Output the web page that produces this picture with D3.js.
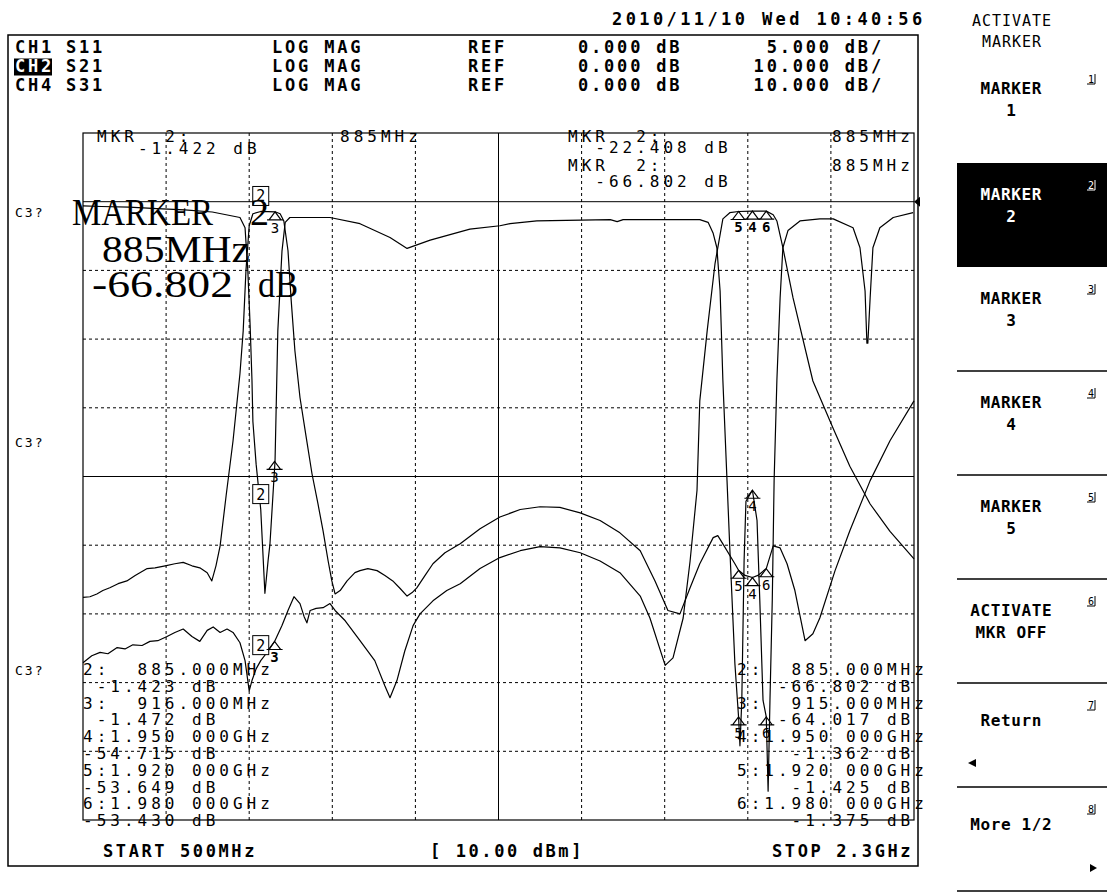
<!DOCTYPE html>
<html><head><meta charset="utf-8">
<script src="https://cdn.jsdelivr.net/npm/d3@7"></script>
<style>body{margin:0;background:#fff}</style>
</head><body><svg id="c" width="1107" height="895"></svg>
<script>
// ---------------- data ----------------
const freqStart = 500, freqStop = 2300;           // MHz
const channelNames = ["CH1", "CH2", "CH4"];
const channelParams = ["S11", "S21", "S31"];
const channelFormats = ["LOG MAG", "LOG MAG", "LOG MAG"];
const channelRefs = ["0.000 dB", "0.000 dB", "0.000 dB"];
const channelScales = ["5.000 dB/", "10.000 dB/", "10.000 dB/"];
const dateText = "2010/11/10 Wed 10:40:56";
const softkeyTitle = ["ACTIVATE", "MARKER"];
const softkeyLabels = [["MARKER","1"],["MARKER","2"],["MARKER","3"],["MARKER","4"],["MARKER","5"],["ACTIVATE","MKR OFF"],["Return"],["More 1/2"]];
const bottomLabels = ["START 500MHz", "[ 10.00 dBm]", "STOP 2.3GHz"];

// CH1 S11 (5 dB/div)
const s11Freq = [500,540,600,660,720,780,840,851,857,862,866,868,875,885,894,901,905,916,922,931,938,948,970,1035,1100,1165,1202,1252,1338,1403,1425,1483,1642,1657,1670,1836,1854,1865,1873,1880,1886,1895,1901,1912,1920,1923,1927,1932,1936,1950,1960,1966,1973,1980,1984,1988,1993,1997,2003,2010,2016,2027,2053,2096,2125,2168,2183,2194,2198,2200,2205,2211,2226,2255,2298];
const s11dB   = [-0.3,-0.35,-0.4,-0.5,-0.6,-0.75,-1.15,-1.9,-5.0,-9.0,-13.0,-16.0,-19.1,-22.4,-28.5,-26.1,-24.9,-18.85,-9.4,-3.6,-1.5,-1.15,-1.15,-1.15,-1.6,-2.6,-3.4,-2.8,-2.0,-1.75,-1.6,-1.4,-1.3,-1.45,-1.3,-1.3,-1.5,-2.3,-3.35,-6.5,-13.0,-20.3,-25.2,-33.6,-37.5,-39.6,-36.3,-26.1,-21.8,-21.0,-23.2,-29.0,-36.3,-37.5,-42.9,-36.3,-29.0,-20.3,-13.0,-7.0,-3.35,-2.1,-1.4,-1.25,-1.25,-1.9,-3.35,-6.5,-10.3,-10.3,-7.0,-3.35,-1.9,-1.15,-0.8];

// CH2 S21 (10 dB/div)
const s21Freq = [500,515,530,543,558,576,595,613,626,639,656,678,699,717,736,753,769,779,788,797,810,825,840,847,853,860,868,885,901,916,927,935,944,951,959,970,983,996,1009,1020,1031,1039,1046,1057,1072,1089,1100,1117,1137,1154,1171,1187,1202,1213,1223,1241,1258,1284,1317,1360,1403,1447,1490,1533,1577,1620,1663,1707,1739,1767,1793,1815,1836,1865,1875,1886,1912,1920,1934,1950,1962,1980,1995,2010,2025,2042,2064,2081,2096,2129,2161,2205,2248,2300];
const s21dB   = [-57.6,-57.5,-57.1,-56.6,-56.2,-55.6,-55.2,-54.4,-53.9,-53.4,-53.3,-53.0,-52.7,-52.5,-53.0,-53.3,-54.0,-55.2,-53.0,-50.1,-42.8,-34.8,-25.0,-18.8,-10.0,-3.5,-1.75,-1.42,-1.45,-1.47,-1.75,-2.8,-7.1,-14.4,-21.7,-28.5,-34.1,-39.6,-44.0,-47.9,-52.3,-55.2,-57.1,-56.6,-55.2,-54.0,-53.7,-53.4,-53.7,-54.4,-55.2,-56.3,-57.4,-56.9,-56.2,-54.4,-52.7,-51.1,-49.8,-47.6,-45.9,-44.8,-44.4,-44.5,-45.3,-46.4,-48.2,-50.8,-55.2,-59.5,-60.0,-56.2,-52.7,-48.9,-48.6,-49.8,-52.7,-53.65,-54.4,-54.7,-54.4,-53.4,-50.1,-50.4,-52.7,-56.6,-63.9,-62.9,-60.6,-53.7,-47.9,-40.6,-34.8,-29.0];

// CH4 S31 (10 dB/div)
const s31Freq = [500,519,537,554,574,591,608,628,645,662,682,699,717,736,753,769,782,797,812,825,840,851,860,866,875,885,901,915,931,944,957,970,979,985,992,1005,1020,1035,1046,1068,1100,1132,1154,1165,1180,1197,1215,1230,1258,1288,1317,1360,1403,1447,1490,1533,1577,1620,1663,1707,1728,1761,1778,1800,1815,1830,1836,1852,1869,1886,1901,1920,1950,1980,1995,2003,2016,2038,2081,2125,2161,2205,2248,2300];
const s31dB   = [-67.1,-66.1,-65.6,-65.8,-64.9,-65.1,-64.5,-64.6,-64.0,-63.9,-63.3,-62.7,-62.2,-63.3,-64.0,-62.4,-61.9,-62.7,-62.2,-62.7,-64.2,-66.8,-71.2,-69.7,-68.0,-66.8,-65.4,-64.0,-61.7,-59.5,-57.5,-58.5,-60.4,-61.3,-59.5,-59.2,-59.1,-58.5,-59.5,-61.0,-63.9,-66.8,-70.5,-72.2,-69.7,-65.4,-61.7,-60.0,-58.1,-56.6,-55.6,-53.4,-51.8,-50.8,-50.2,-50.4,-51.1,-52.3,-54.0,-57.4,-60.6,-67.5,-66.4,-60.6,-52.3,-42.0,-29.0,-18.8,-9.0,-2.5,-1.6,-1.425,-1.362,-1.375,-1.9,-2.8,-6.7,-14.0,-26.1,-33.0,-38.5,-44.0,-48.0,-52.0];

// marker lists: [number, MHz, dB]
const s11Markers = [[2,885,-22.408],[3,915,-18.9],[4,1950,-21.0],[5,1920,-37.5],[6,1980,-37.5]];
const s21Markers = [[2,885,-1.423],[3,916,-1.472],[4,1950,-54.715],[5,1920,-53.649],[6,1980,-53.430]];
const s31Markers = [[2,885,-66.802],[3,915,-64.017],[4,1950,-1.362],[5,1920,-1.425],[6,1980,-1.375]];

const leftTable = ["2:  885.000MHz"," -1.423 dB","3:  916.000MHz"," -1.472 dB","4:1.950 000GHz","-54.715 dB","5:1.920 000GHz","-53.649 dB","6:1.980 000GHz","-53.430 dB"];
const rightTable = ["2:  885.000MHz","   -66.802 dB","3:  915.000MHz","   -64.017 dB","4:1.950 000GHz","    -1.362 dB","5:1.920 000GHz","    -1.425 dB","6:1.980 000GHz","    -1.375 dB"];
const refLabels = ["C3?", "C3?", "C3?"];

// ---------------- drawing ----------------
const MONO = "'DejaVu Sans Mono', 'Liberation Mono', monospace";
const svg = d3.select('#c');
svg.append('rect').attr('width',1107).attr('height',895).attr('fill','#fff');

function T(x, y, s, o = {}) {
  return svg.append('text').attr('x', x).attr('y', y).text(s)
    .attr('font-family', o.family || MONO).attr('font-size', o.size || 16)
    .attr('font-weight', o.weight || 'normal')
    .attr('letter-spacing', o.ls == null ? 4 : o.ls)
    .attr('text-anchor', o.anchor || 'start').attr('fill', o.fill || '#000')
    .style('white-space', 'pre');
}

const L = 83, R = 914, TOP = 133, BOT = 820;
const x = d3.scaleLinear([freqStart, freqStop], [L, R]);
const y10 = d3.scaleLinear([10, -90], [TOP, BOT]);
const y5 = d3.scaleLinear([5, -45], [TOP, BOT]);

// date + header
T(612, 25, dateText, {weight:'bold', size:17, ls:3.4});
const hdrY = [53, 72, 91];
svg.append('rect').attr('x', 14).attr('y', 58.5).attr('width', 38).attr('height', 17).attr('fill', '#000');
channelNames.forEach((c, i) => {
  const o = {weight:'bold', size:17, ls:2.8};
  T(15, hdrY[i], c, Object.assign({}, o, {fill: i === 1 ? '#fff' : '#000'}));
  T(66, hdrY[i], channelParams[i], o);
  T(272, hdrY[i], channelFormats[i], o);
  T(468, hdrY[i], "REF", o);
  T(578, hdrY[i], channelRefs[i], o);
  T(884 - channelScales[i].length * 13.04, hdrY[i], channelScales[i], o);
});

// outer frame
svg.append('rect').attr('x', 8).attr('y', 35).attr('width', 910).attr('height', 831)
  .attr('fill', 'none').attr('stroke', '#000').attr('stroke-width', 1.5);

// grid
const xTicks = d3.range(freqStart, freqStop + 1, 180);
const yTicks = d3.range(10, -91, -10);
const grid = svg.append('g').attr('stroke', '#000').attr('stroke-width', 1);
xTicks.forEach((f, i) => {
  if (i === 0 || i === xTicks.length - 1) return;
  grid.append('line').attr('x1', x(f)).attr('x2', x(f)).attr('y1', TOP).attr('y2', BOT)
    .attr('stroke-dasharray', i === 5 ? null : '3,3');
});
yTicks.forEach((d, i) => {
  if (i === 0 || i === yTicks.length - 1) return;
  const solid = (d === 0 || d === -40);
  grid.append('line').attr('x1', L).attr('x2', R).attr('y1', y10(d)).attr('y2', y10(d))
    .attr('stroke-dasharray', solid ? null : '3,3');
});
svg.append('rect').attr('x', L).attr('y', TOP).attr('width', R - L).attr('height', BOT - TOP)
  .attr('fill', 'none').attr('stroke', '#000').attr('stroke-width', 1.2);
// reference arrow on right edge
svg.append('path').attr('d', `M${R},${y10(0)} L${R+6},${y10(0)-5} L${R+6},${y10(0)+5} Z`).attr('fill', '#000');

// ref labels
[212, 442, 670].forEach((yy, i) => T(15, yy + 5, refLabels[i], {size:13, ls:2}));

// traces
function trace(fr, db, ys) {
  const pts = fr.map((f, i) => [f, db[i]]);
  svg.append('path').datum(pts)
    .attr('d', d3.line().x(d => x(d[0])).y(d => ys(d[1])))
    .attr('fill', 'none').attr('stroke', '#000').attr('stroke-width', 1.2)
    .attr('stroke-linejoin', 'round');
}
trace(s11Freq, s11dB, y5);
trace(s21Freq, s21dB, y10);
trace(s31Freq, s31dB, y10);

// markers
function markers(list, ys, boldLbl) {
  list.forEach(([n, f, db]) => {
    const px = x(f), py = ys(db);
    if (n === 2) {
      svg.append('rect').attr('x', px - 8).attr('y', py - 25).attr('width', 16).attr('height', 19)
        .attr('fill', '#fff').attr('stroke', '#000').attr('stroke-width', 1);
      T(px, py - 10, "2", {size:15, ls:0, anchor:'middle'});
    } else {
      svg.append('path').attr('d', `M${px},${py} L${px-6},${py+8} L${px+6},${py+8} Z M${px-8},${py+8} L${px+8},${py+8}`)
        .attr('fill', 'none').attr('stroke', '#000').attr('stroke-width', 1.2);
      T(px, py + 21, String(n), {size:14, ls:0, anchor:'middle', weight: boldLbl ? 'bold' : 'normal'});
    }
  });
}
markers(s11Markers, y5, false);
markers(s21Markers, y10, false);
markers(s31Markers, y10, true);

// marker readouts (top)
T(97, 142, "MKR  2:", {});
T(340, 142, "885MHz", {});
T(97, 154, "   -1.422 dB", {});
T(568, 142, "MKR  2:", {});
T(832, 142, "885MHz", {});
T(568, 153, "  -22.408 dB", {});
T(568, 171, "MKR  2:", {});
T(832, 171, "885MHz", {});
T(568, 187, "  -66.802 dB", {});

// marker tables
leftTable.forEach((s, i) => T(83, 675 + i * 16.8, s, {}));
rightTable.forEach((s, i) => T(737, 675 + i * 16.8, s, {}));

// big active marker text
const SERIF = "'Liberation Serif', 'DejaVu Serif', serif";
T(72, 225, "MARKER", {family:SERIF, size:38, ls:0}).attr('textLength', 141).attr('lengthAdjust', 'spacingAndGlyphs');
T(250, 225, "2", {family:SERIF, size:38, ls:0});
T(102, 262, "885MHz", {family:SERIF, size:38, ls:0}).attr('textLength', 148).attr('lengthAdjust', 'spacingAndGlyphs');
T(92, 297, "-66.802", {family:SERIF, size:38, ls:0}).attr('textLength', 141).attr('lengthAdjust', 'spacingAndGlyphs');
T(258, 297, "dB", {family:SERIF, size:38, ls:0}).attr('textLength', 40).attr('lengthAdjust', 'spacingAndGlyphs');

// bottom annotations
T(103, 857, bottomLabels[0], {weight:'bold', size:17, ls:2.6});
T(430, 857, bottomLabels[1], {weight:'bold', size:17, ls:2.6});
T(772, 857, bottomLabels[2], {weight:'bold', size:17, ls:2.6});

// softkeys
const SKX = 1011;
T(SKX + 1, 26, softkeyTitle[0], {size:15, ls:1, anchor:'middle'});
T(SKX + 1, 47, softkeyTitle[1], {size:15, ls:1, anchor:'middle'});
const blockTop = [57, 163, 267, 371, 475, 579, 683, 787];
svg.append('rect').attr('x', 957).attr('y', 163).attr('width', 150).attr('height', 104).attr('fill', '#000');
[371, 475, 579, 683, 787, 891].forEach(yy =>
  svg.append('line').attr('x1', 957).attr('x2', 1107).attr('y1', yy).attr('y2', yy).attr('stroke', '#000').attr('stroke-width', 1.5));
softkeyLabels.forEach((lines, i) => {
  const y0 = blockTop[i];
  const fill = i === 1 ? '#fff' : '#000';
  const o = {weight:'bold', size:16, ls:0.6, anchor:'middle', fill};
  if (lines.length === 2) {
    T(SKX + 0.3, y0 + 37, lines[0], o);
    T(SKX + 0.3, y0 + 59, lines[1], o);
  } else {
    T(SKX + 0.3, y0 + 43, lines[0], o);
  }
  // key number superscript
  const nx = 1088, ny = y0 + 26;
  T(nx, ny, String(i + 1), {size:10, ls:0, fill});
  svg.append('path').attr('d', `M${nx+7},${ny-9} V${ny+1} H${nx-1}`).attr('fill', 'none').attr('stroke', fill).attr('stroke-width', 1);
});
svg.append('path').attr('d', 'M968,763 L976,759 L976,767 Z').attr('fill', '#000');
svg.append('path').attr('d', 'M1097,868 L1090,864 L1090,872 Z').attr('fill', '#000');
</script></body></html>
